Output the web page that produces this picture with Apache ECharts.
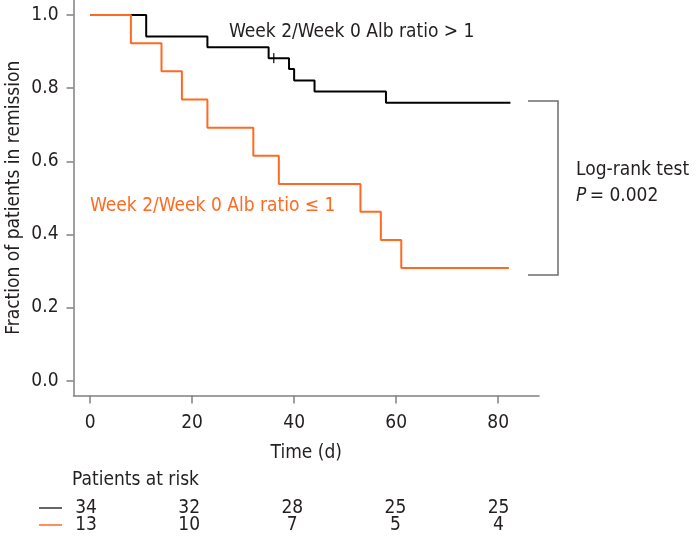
<!DOCTYPE html>
<html>
<head>
<meta charset="utf-8">
<script src="https://cdn.jsdelivr.net/npm/echarts@6/dist/echarts.min.js"></script>
<style>html,body{margin:0;padding:0;background:#fff}#c{width:697px;height:546px}</style>
</head>
<body>
<div id="c"></div>
<script>
// ---- data ----
const xTicks = [0, 20, 40, 60, 80];
const yTicks = [0, 0.2, 0.4, 0.6, 0.8, 1.0];
const highTimes  = [0, 11, 23, 35, 39, 40, 44, 58, 82.4];
const highValues = [1, 0.941, 0.912, 0.882, 0.852, 0.821, 0.791, 0.760, 0.760];
const highCensorTimes = [36];
const highCensorValues = [0.882];
const lowTimes  = [0, 8, 14, 18, 23, 32, 37, 53, 57, 61, 82.1];
const lowValues = [1, 0.923, 0.846, 0.769, 0.692, 0.615, 0.538, 0.462, 0.385, 0.308, 0.308];
const riskTimes = [0, 20, 40, 60, 80];
const riskHigh = [34, 32, 28, 25, 25];
const riskLow  = [13, 10, 7, 5, 4];
const highLabel = 'Week 2/Week 0 Alb ratio > 1';
const lowLabel  = 'Week 2/Week 0 Alb ratio \u2264 1';

const FONT = '"DejaVu Sans Condensed", "DejaVu Sans", sans-serif';
const TXT = '#231f20';
const ORANGE = '#ff6a22';
const AXIS = '#808080';
const FS = 19;

const chart = echarts.init(document.getElementById('c'), null, {renderer: 'canvas'});
const zip = (a, b) => a.map((v, i) => [v, b[i]]);

const staticGraphics = [
  {type: 'text', left: 229, top: 23, style: {text: highLabel, fill: TXT, font: FS + 'px ' + FONT}},
  {type: 'text', left: 90, top: 197, style: {text: lowLabel, fill: ORANGE, font: FS + 'px ' + FONT}},
  {type: 'polyline', shape: {points: [[528, 101], [558, 101], [558, 275], [528, 275]]},
   style: {stroke: '#6d6d6d', lineWidth: 1.5, fill: null}},
  {type: 'text', left: 576, top: 161, style: {text: 'Log-rank test', fill: TXT, font: FS + 'px ' + FONT}},
  {type: 'text', left: 576, top: 187, style: {rich: {i: {fontStyle: 'italic', fontSize: FS, fontFamily: FONT, fill: TXT}, n: {fontSize: FS, fontFamily: FONT, fill: TXT}},
    text: '{i|P} {n|= 0.002}'}},
  {type: 'text', left: 72, top: 471, style: {text: 'Patients at risk', fill: TXT, font: FS + 'px ' + FONT}},
  {type: 'line', shape: {x1: 39, y1: 508, x2: 62, y2: 508}, style: {stroke: '#333', lineWidth: 1.5}},
  {type: 'line', shape: {x1: 39, y1: 525, x2: 62, y2: 525}, style: {stroke: ORANGE, lineWidth: 1.5}}
];

chart.setOption({
  animation: false,
  textStyle: {fontFamily: FONT},
  grid: [
    {left: 73.5, right: 158, top: 0, bottom: 150.5, outerBoundsMode: 'none', containLabel: false},
    {left: 86, width: 412.5, top: 508, height: 17, outerBoundsMode: 'none', containLabel: false}
  ],
  xAxis: [{
    type: 'value', gridIndex: 0, min: -3.25, max: 88,
    splitLine: {show: false},
    axisLine: {show: true, onZero: false, lineStyle: {color: AXIS, width: 1.5}},
    axisTick: {show: true, length: 8, lineStyle: {color: AXIS, width: 1.5}, customValues: xTicks},
    axisLabel: {customValues: xTicks, color: TXT, fontSize: FS, fontFamily: FONT, margin: 18},
    name: 'Time (d)', nameLocation: 'middle', nameGap: 48,
    nameTextStyle: {color: TXT, fontSize: FS, fontFamily: FONT}
  }, {
    type: 'value', gridIndex: 1, min: 0, max: 80, show: false
  }],
  yAxis: [{
    type: 'value', gridIndex: 0, min: -0.0405, max: 1.041,
    splitLine: {show: false},
    axisLine: {show: true, onZero: false, lineStyle: {color: AXIS, width: 1.5}},
    axisTick: {show: true, length: 7, lineStyle: {color: AXIS, width: 1.5}, customValues: yTicks},
    axisLabel: {customValues: yTicks, color: TXT, fontSize: FS, fontFamily: FONT, margin: 15,
      formatter: v => v.toFixed(1)},
    name: 'Fraction of patients in remission', nameLocation: 'middle', nameGap: 50, nameMoveOverlap: false,
    nameTextStyle: {color: TXT, fontSize: FS, fontFamily: FONT}
  }, {
    type: 'value', gridIndex: 1, min: 0, max: 1, show: false
  }],
  series: [
    {type: 'line', step: 'end', data: zip(highTimes, highValues), showSymbol: false, symbol: 'none',
     lineStyle: {color: '#000', width: 2}, z: 3},
    {type: 'scatter', data: zip(highCensorTimes, highCensorValues), symbol: 'rect', symbolSize: [1.5, 10],
     itemStyle: {color: '#000'}, z: 4},
    {type: 'line', step: 'end', data: zip(lowTimes, lowValues), showSymbol: false, symbol: 'none',
     lineStyle: {color: ORANGE, width: 2}, z: 3}
  ],
  graphic: staticGraphics
});

// risk table numbers placed through the risk grid's own scales
const riskTexts = [];
[[riskHigh, 1], [riskLow, 0]].forEach(([vals, row]) => {
  riskTimes.forEach((t, i) => {
    const p = chart.convertToPixel({xAxisIndex: 1, yAxisIndex: 1}, [t, row]);
    riskTexts.push({type: 'text', x: p[0], y: p[1],
      style: {text: String(vals[i]), fill: TXT, font: FS + 'px ' + FONT, align: 'center', verticalAlign: 'middle'}});
  });
});
chart.setOption({graphic: staticGraphics.concat(riskTexts)});
</script>
</body>
</html>
